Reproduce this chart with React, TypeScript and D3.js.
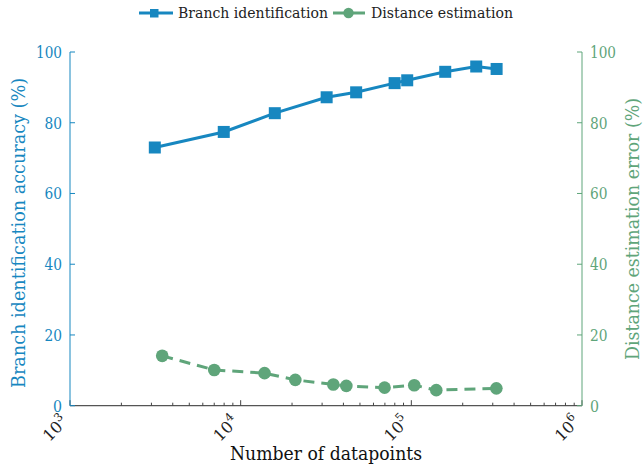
import React from "react";
import * as d3 from "d3";

const branchX = [3140, 7960, 15850, 31900, 47500, 79800, 94600, 158000, 240000, 316000];
const branchY = [73.0, 77.4, 82.7, 87.2, 88.6, 91.2, 92.0, 94.4, 95.9, 95.2];
const distX = [3470, 7000, 13800, 20900, 34900, 41600, 69700, 104000, 140000, 315000];
const distY = [14.1, 10.1, 9.2, 7.3, 6.0, 5.6, 5.1, 5.8, 4.4, 4.9];
const yTicks = [0, 20, 40, 60, 80, 100];
const xMajor = [3, 4, 5, 6];

const BLUE = "#1787c0";
const GREEN = "#5fa57a";
const FONT = "'DejaVu Serif', serif";

export default function App() {
  const W = 644, H = 467;
  const L = 70, R = 582, T = 52, B = 405.7;
  const x = d3.scaleLog().domain([1e3, 1e6]).range([L, R]);
  const y = d3.scaleLinear().domain([0, 100]).range([B, T]);
  const bLine = d3.line<number>().x((_, i) => x(branchX[i])).y((d) => y(d))(branchY) || "";
  const dLine = d3.line<number>().x((_, i) => x(distX[i])).y((d) => y(d))(distY) || "";
  const minor: number[] = [];
  for (let e = 3; e < 6; e++) for (let m = 2; m <= 9; m++) minor.push(m * Math.pow(10, e));
  return (
    <svg width={W} height={H} style={{ position: "absolute", left: 0, top: 0, fontFamily: FONT }}>
      <rect width={W} height={H} fill="#fff" />
      {/* bottom axis */}
      <line x1={L} x2={R} y1={B} y2={B} stroke="#555" strokeWidth={1.2} />
      {minor.map((v) => (
        <line key={v} x1={x(v)} x2={x(v)} y1={B} y2={B - 3} stroke="#444" strokeWidth={1} />
      ))}
      {xMajor.map((e) => (
        <g key={e}>
          <line x1={x(Math.pow(10, e))} x2={x(Math.pow(10, e))} y1={B} y2={B - 5.5} stroke="#444" strokeWidth={1} />
          <text
            transform={`translate(${x(Math.pow(10, e)) - 1},${B + 17}) rotate(-45)`}
            textAnchor="end"
            fontSize={16}
            fill="#222"
          >
            10<tspan dy={-7.5} fontSize={11.5}>{e}</tspan>
          </text>
        </g>
      ))}
      <text x={326} y={460} textAnchor="middle" fontSize={19} textLength={192} lengthAdjust="spacingAndGlyphs" fill="#111">Number of datapoints</text>
      {/* left axis */}
      <line x1={L} x2={L} y1={T} y2={B} stroke={BLUE} strokeWidth={1} />
      {yTicks.map((t) => (
        <g key={t}>
          <line x1={L} x2={L + 5} y1={y(t)} y2={y(t)} stroke={BLUE} strokeWidth={1} />
          <text x={L - 8} y={y(t) + 6} textAnchor="end" fontSize={16} textLength={t === 100 ? 26 : t === 0 ? 9 : 17.5} lengthAdjust="spacingAndGlyphs" fill={BLUE}>{t}</text>
        </g>
      ))}
      <text transform={`translate(25,233) rotate(-90)`} textAnchor="middle" fontSize={19} textLength={310} lengthAdjust="spacingAndGlyphs" fill={BLUE}>
        Branch identification accuracy (%)
      </text>
      {/* right axis */}
      <line x1={R} x2={R} y1={T} y2={B} stroke={GREEN} strokeWidth={1} />
      {yTicks.map((t) => (
        <g key={t}>
          <line x1={R} x2={R - 5} y1={y(t)} y2={y(t)} stroke={GREEN} strokeWidth={1} />
          <text x={R + 8} y={y(t) + 6} textAnchor="start" fontSize={16} textLength={t === 100 ? 26 : t === 0 ? 9 : 17.5} lengthAdjust="spacingAndGlyphs" fill={GREEN}>{t}</text>
        </g>
      ))}
      <text transform={`translate(639,229) rotate(-90)`} textAnchor="middle" fontSize={19} textLength={262} lengthAdjust="spacingAndGlyphs" fill={GREEN}>
        Distance estimation error (%)
      </text>
      {/* series */}
      <path d={bLine} fill="none" stroke={BLUE} strokeWidth={3} />
      {branchY.map((v, i) => (
        <rect key={i} x={x(branchX[i]) - 6} y={y(v) - 6} width={12} height={12} fill={BLUE} />
      ))}
      <path d={dLine} fill="none" stroke={GREEN} strokeWidth={3} strokeDasharray="11,7" />
      {distY.map((v, i) => (
        <circle key={i} cx={x(distX[i])} cy={y(v)} r={6.3} fill={GREEN} />
      ))}
      {/* legend */}
      <line x1={139} x2={173} y1={13} y2={13} stroke={BLUE} strokeWidth={3} />
      <rect x={150} y={9} width={8.5} height={8.5} fill={BLUE} />
      <text x={178} y={18} fontSize={15.5} textLength={150} lengthAdjust="spacingAndGlyphs" fill="#222">Branch identification</text>
      <line x1={333} x2={365} y1={13} y2={13} stroke={GREEN} strokeWidth={3} />
      <circle cx={348.5} cy={13} r={5.2} fill={GREEN} />
      <text x={371} y={18} fontSize={15.5} textLength={142} lengthAdjust="spacingAndGlyphs" fill="#222">Distance estimation</text>
    </svg>
  );
}
